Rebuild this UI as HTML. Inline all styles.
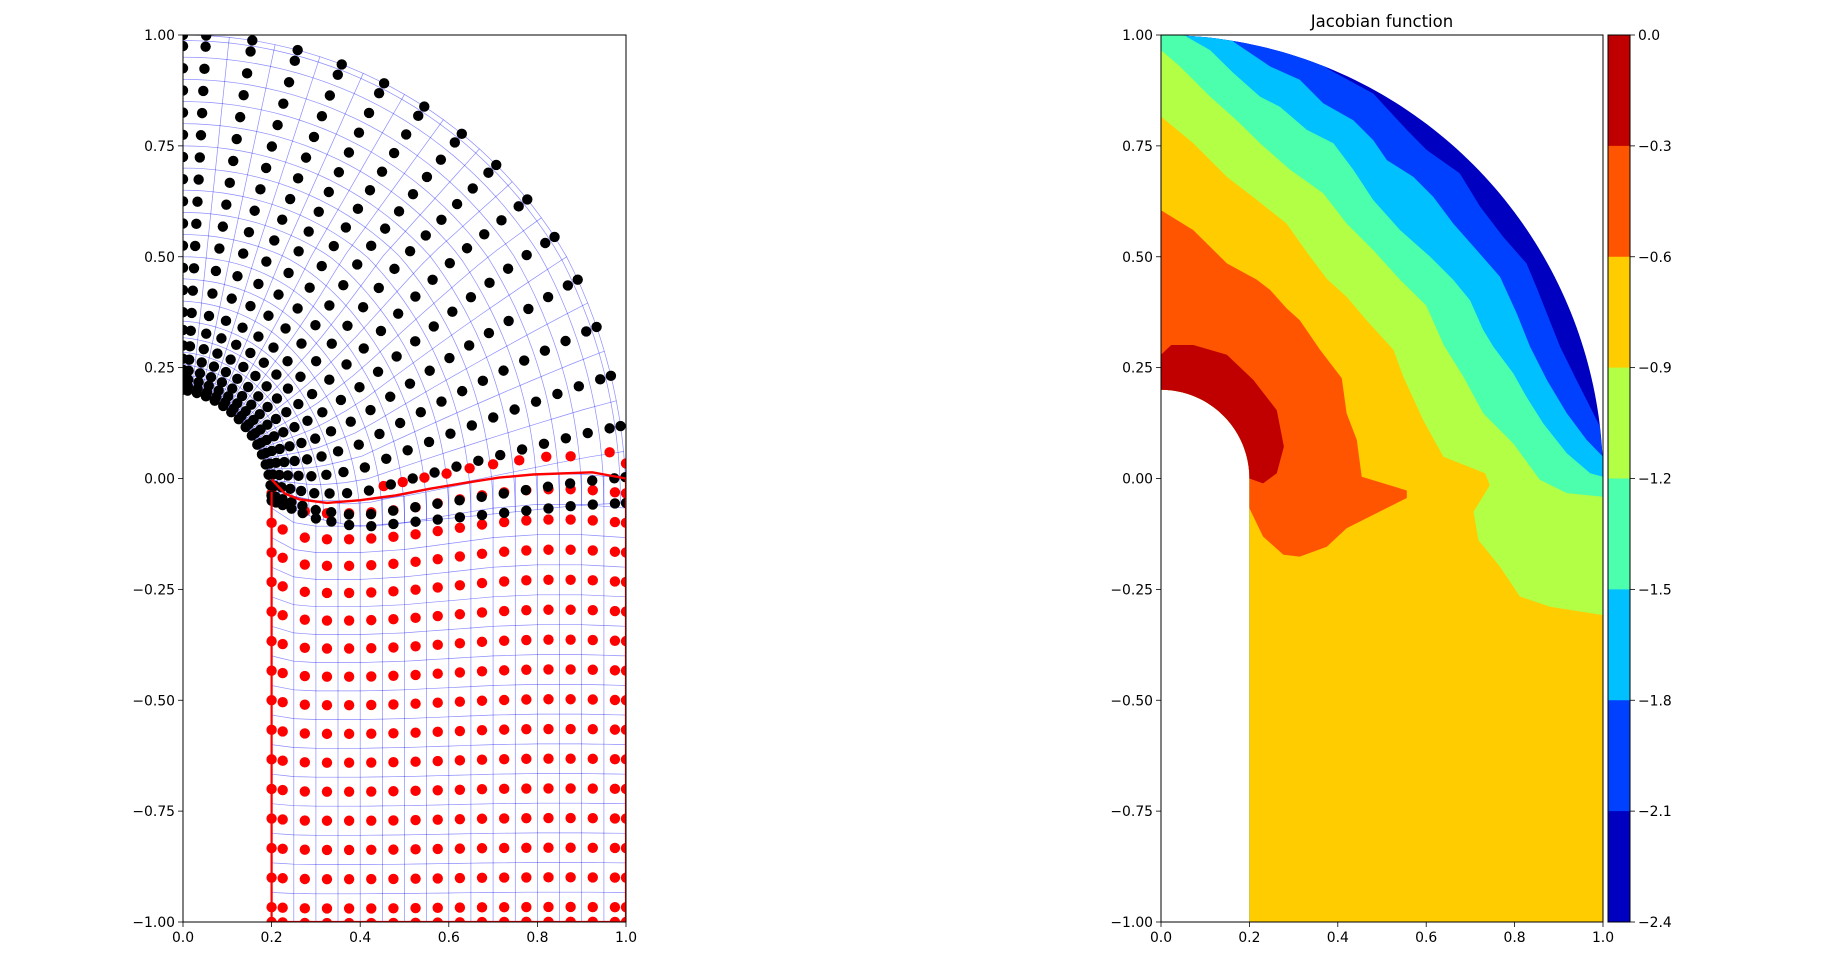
<!DOCTYPE html>
<html><head><meta charset="utf-8">
<style>
html,body{margin:0;padding:0;background:#fff;}
svg{display:block;font-family:"DejaVu Sans","Liberation Sans",sans-serif;}
</style></head>
<body>
<svg id="fig" width="1848" height="955" viewBox="0 0 1848 955" xmlns="http://www.w3.org/2000/svg">
<defs>
<clipPath id="clipL"><rect x="183" y="35" width="443" height="887"/></clipPath>
<clipPath id="clipDom"><path id="domPath" d=""/></clipPath>
</defs>
<g id="left"></g>
<g id="right"></g>
<g id="cbar"></g>
<text x="1382" y="27" text-anchor="middle" font-size="16.5" fill="#000">Jacobian function</text>
</svg>
<script>
// ---------------- data ----------------
const xTicks = [0.0, 0.2, 0.4, 0.6, 0.8, 1.0];
const xTickLabels = ["0.0","0.2","0.4","0.6","0.8","1.0"];
const yTicks = [1.0, 0.75, 0.5, 0.25, 0.0, -0.25, -0.5, -0.75, -1.0];
const yTickLabels = ["1.00","0.75","0.50","0.25","0.00","\u22120.25","\u22120.50","\u22120.75","\u22121.00"];
// polar mesh (upper region)
const blackRadii = [0.2,0.21,0.225,0.245,0.27,0.3,0.335,0.375,0.425,0.475,0.525,0.575,0.625,0.675,0.725,0.775,0.825,0.875,0.925,0.975,1.0];
const blackAngles = [90,87,81,75,69,63,57,51,45,39,33,27,21,15,9,3,0];
const blackAmpX = [0,0.2,0.3,0.4,0.5,0.6,0.7,0.8,0.9,1.0];
const blackAmp  = [0,-0.05,-0.09,-0.11,-0.1,-0.09,-0.08,-0.07,-0.06,-0.055];
// lower rectangular mesh
const redCols = [0.2,0.225,0.275,0.325,0.375,0.425,0.475,0.525,0.575,0.625,0.675,0.725,0.775,0.825,0.875,0.925,0.975,1.0];
const redRows = [-0.0333,-0.1,-0.1667,-0.2333,-0.3,-0.3667,-0.4333,-0.5,-0.5667,-0.6333,-0.7,-0.7667,-0.8333,-0.9,-0.9667,-1.0];
const redDispX = [0.2,0.25,0.3,0.4,0.5,0.6,0.7,0.8,0.9,1.0];
const redDisp  = [0,-0.04,-0.05,-0.05,-0.04,-0.02,0,0.01,0.01,0];
const redTopX = [0.453,0.496,0.545,0.595,0.647,0.7,0.759,0.82,0.875,0.963,1.0];
const redTopY = [-0.017,-0.008,0.002,0.011,0.023,0.032,0.041,0.049,0.05,0.059,0.034];
// interface curve
const ifaceX = [0.2,0.23,0.262,0.325,0.4,0.48,0.558,0.636,0.714,0.79,0.924,1.0];
const ifaceY = [-0.002,-0.034,-0.047,-0.055,-0.049,-0.038,-0.023,-0.01,0.002,0.009,0.014,0.0];
// contour levels
const levels = [0.0,-0.3,-0.6,-0.9,-1.2,-1.5,-1.8,-2.1,-2.4];
const levelLabels = ["0.0","\u22120.3","\u22120.6","\u22120.9","\u22121.2","\u22121.5","\u22121.8","\u22122.1","\u22122.4"];
const bandColors = ["#c00000","#ff5500","#ffcc00","#b2ff46","#4bffac","#00c0ff","#0040ff","#0000c0"];
const curveAx = [0.375,0.48,0.556,0.601,0.676,0.722,0.774,0.827,0.85,0.87,0.903,0.94,0.978,0.993,0.997];
const curveAy = [0.925,0.868,0.786,0.741,0.688,0.613,0.545,0.485,0.43,0.38,0.297,0.222,0.147,0.117,0.07];
const curveBx = [0.164,0.247,0.314,0.367,0.435,0.48,0.511,0.571,0.616,0.661,0.707,0.767,0.805,0.835,0.873,0.918,0.963,1.0];
const curveBy = [0.985,0.929,0.899,0.846,0.808,0.763,0.718,0.68,0.635,0.575,0.523,0.455,0.372,0.297,0.222,0.147,0.087,0.049];
const curveCx = [0.058,0.111,0.164,0.224,0.269,0.33,0.39,0.435,0.48,0.541,0.609,0.661,0.699,0.729,0.752,0.797,0.827,0.865,0.918,0.971,1.0];
const curveCy = [0.996,0.966,0.914,0.861,0.838,0.786,0.756,0.696,0.628,0.56,0.5,0.448,0.402,0.335,0.297,0.237,0.184,0.124,0.057,0.012,0.004];
const curveDx = [0,0.043,0.111,0.171,0.224,0.292,0.367,0.42,0.48,0.541,0.6,0.64,0.684,0.729,0.797,0.857,0.918,1.0];
const curveDy = [0.966,0.929,0.861,0.808,0.756,0.696,0.643,0.575,0.515,0.448,0.39,0.3,0.23,0.147,0.079,-0.003,-0.033,-0.041];
const curveEx = [0,0.073,0.149,0.217,0.284,0.33,0.375,0.42,0.465,0.526,0.548,0.593,0.639,0.733,0.744,0.707,0.718,0.767,0.812,0.88,1.0];
const curveEy = [0.816,0.756,0.68,0.628,0.575,0.51,0.45,0.41,0.357,0.29,0.23,0.132,0.049,0.012,-0.015,-0.075,-0.139,-0.199,-0.266,-0.289,-0.308];
const curveFx = [0,0.073,0.149,0.217,0.247,0.284,0.314,0.36,0.409,0.42,0.443,0.454,0.556,0.556,0.42,0.375,0.314,0.277,0.231,0.2];
const curveFy = [0.605,0.56,0.485,0.448,0.425,0.384,0.357,0.29,0.226,0.147,0.087,0.004,-0.027,-0.044,-0.112,-0.154,-0.176,-0.172,-0.131,-0.067];
const curveGx = [0,0.023,0.073,0.149,0.209,0.262,0.278,0.262,0.231,0.2];
const curveGy = [0.279,0.301,0.301,0.279,0.222,0.154,0.072,0.012,-0.011,0.0];

// ---------------- helpers ----------------
const NS = "http://www.w3.org/2000/svg";
const LX = x => 183 + x*443, LY = y => 35 + (1-y)*443.5;
const RX = x => 1161 + x*442, RY = y => 35 + (1-y)*443.5;
function mk(tag, attrs, parent){const e=document.createElementNS(NS,tag);for(const k in attrs)e.setAttribute(k,attrs[k]);parent.appendChild(e);return e;}
function interp(xs, ys, x){ if(x<=xs[0])return ys[0]; for(let i=1;i<xs.length;i++){ if(x<=xs[i]){const t=(x-xs[i-1])/(xs[i]-xs[i-1]);return ys[i-1]+t*(ys[i]-ys[i-1]);}} return ys[ys.length-1]; }
function blackPt(r, th){ const a=th*Math.PI/180; const x=r*Math.cos(a), y=r*Math.sin(a); const dy=interp(blackAmpX,blackAmp,x)*Math.max(0,1-y/0.5); return [x,y+dy]; }
function redPt(x, y){ return [x, y + interp(redDispX,redDisp,x)*Math.exp(3*y)]; }

function axes(g, X, Y, x0, prefix){
  mk("rect",{x:x0,y:35,width:(x0===183?443:442),height:887,fill:"none",stroke:"#000","stroke-width":1}, g);
  xTicks.forEach((v,i)=>{
    const t=mk("line",{x1:X(v),x2:X(v),y1:922,y2:927,stroke:"#000","stroke-width":0.8},g);
    
    
    const l=mk("text",{x:X(v),y:942,"text-anchor":"middle","font-size":13.9},g); l.textContent=xTickLabels[i];
    
    
  });
  yTicks.forEach((v,i)=>{
    const t=mk("line",{x1:x0-5,x2:x0,y1:Y(v),y2:Y(v),stroke:"#000","stroke-width":0.8},g);
    
    
    const l=mk("text",{x:x0-8,y:Y(v)+5,"text-anchor":"end","font-size":13.9},g); l.textContent=yTickLabels[i];
    
    
  });
}

// ---------------- left plot ----------------
const L = document.getElementById("left");
const gridG = mk("g",{"clip-path":"url(#clipL)",stroke:"#0000ff","stroke-opacity":0.45,"stroke-width":0.7,fill:"none"},L);


const arcR=[0.2]; for(let i=1;i<blackRadii.length;i++) arcR.push((blackRadii[i-1]+blackRadii[i])/2); arcR.push(1.0);
arcR.forEach(r=>{ let d=""; for(let th=0;th<=90;th+=2){const p=blackPt(r,th);d+=(th?"L":"M")+LX(p[0]).toFixed(1)+","+LY(p[1]).toFixed(1);} const e=mk("path",{d:d},gridG);  });
for(let th=0;th<=90;th+=6){ let d=""; blackRadii.forEach((r,i)=>{const p=blackPt(r,th);d+=(i?"L":"M")+LX(p[0]).toFixed(1)+","+LY(p[1]).toFixed(1);}); const e=mk("path",{d:d},gridG);  }
for(let k=0;k<=15;k++){ const yv=-k/15; let d=""; for(let x=0.2;x<=1.0001;x+=0.025){const p=redPt(x,yv);d+=(x>0.2?"L":"M")+LX(p[0]).toFixed(1)+","+LY(p[1]).toFixed(1);} const e=mk("path",{d:d},gridG);  }
for(let x=0.2;x<=1.0001;x+=0.05){ let d=""; for(let k=0;k<=30;k++){const yv=-k/30;const p=redPt(x,yv);d+=(k?"L":"M")+LX(p[0]).toFixed(1)+","+LY(p[1]).toFixed(1);} const e=mk("path",{d:d},gridG);  }

const redG = mk("g",{"clip-path":"url(#clipL)",fill:"#ff0000"},L);


redRows.forEach(yv=>redCols.forEach(xv=>{ const p=(xv===0.2)?[xv,yv]:redPt(xv,yv); const c=mk("circle",{cx:LX(p[0]),cy:LY(p[1]),r:5.2},redG);  }));
redTopX.forEach((xv,i)=>{ const c=mk("circle",{cx:LX(xv),cy:LY(redTopY[i]),r:5.2},redG);  });
const blkG = mk("g",{"clip-path":"url(#clipL)",fill:"#000"},L);


blackRadii.forEach(r=>blackAngles.forEach(th=>{ const p=blackPt(r,th); const c=mk("circle",{cx:LX(p[0]),cy:LY(p[1]),r:5.2},blkG);  }));
let bd="M"+LX(0.2)+","+LY(-0.03)+"L"+LX(0.2)+","+LY(-1)+"L"+LX(1)+","+LY(-1)+"L"+LX(1)+","+LY(0);
const bline=mk("path",{d:bd,stroke:"#ff0000","stroke-width":2.2,fill:"none","clip-path":"url(#clipL)"},L);


let id=""; ifaceX.forEach((x,i)=>{id+=(i?"L":"M")+LX(x).toFixed(1)+","+LY(ifaceY[i]).toFixed(1);});
const iline=mk("path",{d:id,stroke:"#ff0000","stroke-width":2.4,fill:"none"},L);


axes(L, LX, LY, 183, "left");

// ---------------- right plot ----------------
const R = document.getElementById("right");
let dd="M"+RX(0.2)+","+RY(-1)+"L"+RX(1)+","+RY(-1)+"L"+RX(1)+","+RY(0);
for(let th=0;th<=90;th+=1){const a=th*Math.PI/180;dd+="L"+RX(Math.cos(a)).toFixed(2)+","+RY(Math.sin(a)).toFixed(2);}
for(let th=90;th>=0;th-=2){const a=th*Math.PI/180;dd+="L"+RX(0.2*Math.cos(a)).toFixed(2)+","+RY(0.2*Math.sin(a)).toFixed(2);}
dd+="Z";
document.getElementById("domPath").setAttribute("d",dd);
const cg = mk("g",{"clip-path":"url(#clipDom)"},R);


const bg=mk("rect",{x:RX(-0.05),y:RY(1.05),width:RX(1.05)-RX(-0.05),height:RY(-1.05)-RY(1.05),fill:bandColors[7]},cg);

function bandPoly(xs, ys, color, name){
  let d="";
  xs.forEach((x,i)=>{d+=(i?"L":"M")+RX(x).toFixed(1)+","+RY(ys[i]).toFixed(1);});
  const xe=xs[xs.length-1], ye=ys[ys.length-1];
  if(xe>=0.99){ d+="L"+RX(1.1)+","+RY(ye)+"L"+RX(1.1)+","+RY(-1.1)+"L"+RX(-0.1)+","+RY(-1.1); }
  else { d+="L"+RX(0.1)+","+RY(ye)+"L"+RX(0)+","+RY(0); }
  d+="L"+RX(-0.1)+","+RY(ys[0])+"L"+RX(-0.1)+","+RY(1.1)+"L"+RX(xs[0])+","+RY(1.1)+"Z";
  const p=mk("path",{d:d,fill:color},cg);
  
}
bandPoly(curveAx,curveAy,bandColors[6],"band-2.1-1.8");
bandPoly(curveBx,curveBy,bandColors[5],"band-1.8-1.5");
bandPoly(curveCx,curveCy,bandColors[4],"band-1.5-1.2");
bandPoly(curveDx,curveDy,bandColors[3],"band-1.2-0.9");
bandPoly(curveEx,curveEy,bandColors[2],"band-0.9-0.6");
bandPoly(curveFx,curveFy,bandColors[1],"band-0.6-0.3");
bandPoly(curveGx,curveGy,bandColors[0],"band-0.3-0.0");
axes(R, RX, RY, 1161, "right");

// ---------------- colorbar ----------------
const C = document.getElementById("cbar");
const CY = v => 35 + (levels[0]-v)/(levels[0]-levels[levels.length-1])*887;
for(let i=0;i<bandColors.length;i++){
  const r=mk("rect",{x:1608,y:CY(levels[i]),width:22,height:CY(levels[i+1])-CY(levels[i])+0.5,fill:bandColors[i]},C);
  
  
}
mk("rect",{x:1608,y:35,width:22,height:887,fill:"none",stroke:"#000","stroke-width":1},C);
levels.forEach((v,i)=>{
  const t=mk("line",{x1:1630,x2:1635,y1:CY(v),y2:CY(v),stroke:"#000","stroke-width":0.8},C);
  
  
  const l=mk("text",{x:1638,y:CY(v)+5,"font-size":13.9},C); l.textContent=levelLabels[i];
  
  
});
</script>
</body></html>
